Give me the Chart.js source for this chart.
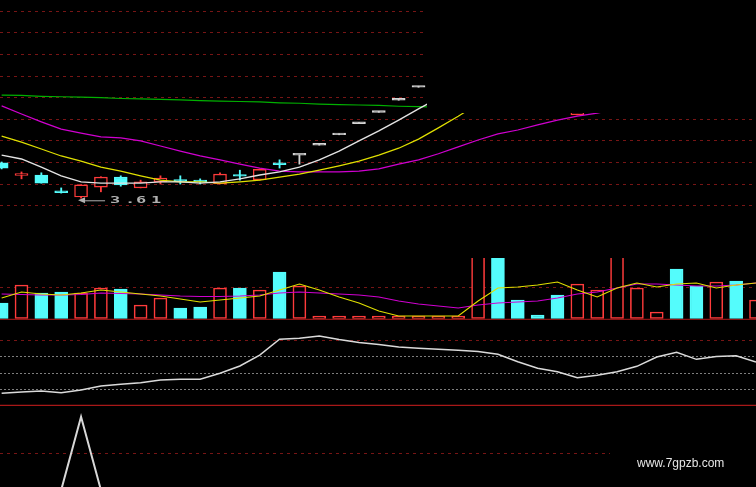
<!DOCTYPE html>
<html>
<head>
<meta charset="utf-8">
<script src="https://cdn.jsdelivr.net/npm/chart.js@4.4.1/dist/chart.umd.min.js"></script>
<style>
  html, body { margin: 0; padding: 0; background: #000; }
  #wrap { position: relative; width: 756px; height: 487px; overflow: hidden; background: #000; }
  canvas { position: absolute; left: 0; }
</style>
</head>
<body>
<div id="wrap">
  <canvas id="kline" width="756" height="216" style="top:0px"></canvas>
  <canvas id="vol" width="756" height="62" style="top:258px"></canvas>
  <canvas id="osc" width="756" height="86" style="top:320px"></canvas>
  <canvas id="sig" width="756" height="81" style="top:406px"></canvas>
</div>
<script>
// ---- daily bars (oldest first) ----
const opens  = [4.43, 4.14, 4.15, 3.76, 3.64, 3.87, 4.10, 3.85, 3.99, 4.02, 4.01, 3.94, 4.14, 4.04, 4.41, 4.61, 4.84, 5.08, 5.34, 5.60, 5.88, 6.18, 6.49, 6.81, 6.70, 7.10, 6.55, 6.35, 6.25, 5.54, 6.00, 6.25, 6.50, 6.70, 6.90, 6.50, 6.30, 6.65, 6.40];
const highs  = [4.45, 4.22, 4.20, 3.85, 3.93, 4.11, 4.13, 4.03, 4.13, 4.13, 4.06, 4.20, 4.26, 4.29, 4.50, 4.61, 4.84, 5.08, 5.34, 5.60, 5.88, 6.18, 6.49, 6.81, 7.15, 7.30, 6.70, 6.45, 6.30, 6.15, 6.30, 6.56, 6.80, 6.80, 7.05, 6.60, 6.70, 6.75, 6.60];
const lows   = [4.29, 4.06, 3.96, 3.73, 3.61, 3.76, 3.89, 3.85, 3.94, 3.94, 3.94, 3.94, 4.03, 4.03, 4.31, 4.40, 4.84, 5.08, 5.34, 5.60, 5.88, 6.18, 6.49, 6.81, 6.62, 6.50, 6.10, 6.15, 5.85, 5.54, 5.90, 6.20, 6.40, 6.60, 6.40, 6.20, 6.25, 6.35, 6.30];
const closes = [4.31, 4.15, 3.96, 3.74, 3.92, 4.10, 3.92, 3.99, 4.08, 4.00, 3.99, 4.17, 4.12, 4.28, 4.39, 4.61, 4.84, 5.08, 5.34, 5.60, 5.88, 6.18, 6.49, 6.81, 7.15, 6.60, 6.20, 6.30, 6.00, 6.10, 6.25, 6.56, 6.70, 6.75, 6.50, 6.30, 6.60, 6.40, 6.55];

// ---- price moving averages ----
const ma5  = [4.61, 4.52, 4.33, 4.13, 3.99, 3.96, 3.96, 3.96, 3.99, 3.99, 3.96, 3.99, 4.06, 4.15, 4.22, 4.33, 4.50, 4.70, 4.94, 5.17, 5.42, 5.68, 5.93, 6.20, 6.50, 6.72, 6.69, 6.61, 6.45, 6.24, 6.17, 6.24, 6.40, 6.67, 6.61, 6.56, 6.57, 6.51, 6.47];
const ma10 = [5.05, 4.91, 4.75, 4.59, 4.47, 4.33, 4.24, 4.13, 4.03, 3.99, 3.99, 3.96, 3.99, 4.03, 4.10, 4.17, 4.26, 4.36, 4.47, 4.61, 4.77, 4.98, 5.24, 5.51, 5.80, 6.00, 6.11, 6.21, 6.25, 6.27, 6.28, 6.32, 6.36, 6.39, 6.36, 6.33, 6.37, 6.41, 6.48];
const ma20 = [5.75, 5.56, 5.38, 5.21, 5.12, 5.03, 5.01, 4.94, 4.82, 4.70, 4.59, 4.50, 4.40, 4.31, 4.24, 4.22, 4.22, 4.22, 4.24, 4.29, 4.40, 4.50, 4.64, 4.80, 4.96, 5.10, 5.19, 5.31, 5.42, 5.51, 5.58, 5.68, 5.77, 5.86, 5.95, 6.03, 6.12, 6.20, 6.28];
const ma60 = [6.00, 5.99, 5.97, 5.96, 5.95, 5.94, 5.92, 5.91, 5.90, 5.89, 5.87, 5.86, 5.85, 5.84, 5.82, 5.81, 5.79, 5.78, 5.77, 5.76, 5.74, 5.73, 5.72, 5.71, 5.71, 5.71, 5.70, 5.70, 5.70, 5.70, 5.70, 5.71, 5.71, 5.72, 5.72, 5.73, 5.73, 5.74, 5.74];

// ---- volume (10k lots) and its averages ----
const volumes = [3.1, 6.7, 5.1, 5.3, 5.1, 6.1, 5.9, 2.7, 4.1, 2.1, 2.3, 6.1, 6.1, 5.7, 9.3, 6.5, 0.5, 0.5, 0.5, 0.5, 0.5, 0.5, 0.5, 0.5, 15.5, 12.5, 3.7, 0.7, 4.7, 6.9, 5.7, 12.6, 6.1, 1.3, 9.9, 6.5, 7.3, 7.5, 3.7];
const mavol5  = [4.1, 5.3, 4.9, 4.7, 5.1, 5.7, 5.3, 4.9, 4.5, 3.9, 3.3, 3.7, 4.1, 4.5, 5.7, 6.9, 5.7, 4.3, 3.1, 1.5, 0.5, 0.5, 0.5, 0.5, 3.5, 6.1, 6.3, 6.7, 7.3, 5.7, 4.3, 6.1, 7.1, 6.3, 6.9, 7.1, 6.1, 6.7, 7.1];
const mavol10 = [4.9, 4.8, 4.7, 4.7, 4.8, 5.1, 5.0, 4.9, 4.7, 4.5, 4.4, 4.4, 4.5, 4.7, 5.1, 5.3, 5.1, 4.9, 4.7, 4.3, 3.5, 2.9, 2.5, 2.1, 2.7, 3.1, 3.3, 3.5, 4.1, 4.9, 5.3, 6.1, 6.9, 6.9, 6.7, 6.5, 6.5, 6.7, 7.1];

// ---- oscillator (0-100) and bottom signal ----
const oscillator = [14.4, 16.0, 17.2, 15.1, 18.5, 23.4, 25.5, 27.4, 30.8, 31.6, 31.6, 39.0, 48.0, 61.5, 80.9, 82.1, 84.9, 80.6, 76.9, 74.5, 71.4, 69.8, 68.6, 67.3, 65.8, 62.4, 53.3, 45.2, 41.0, 33.6, 36.7, 40.9, 47.6, 59.1, 64.9, 56.2, 59.6, 60.6, 52.9];
const signal = [0, 0, 0, 0, 100, 0, 0, 0, 0, 0, 0, 0, 0, 0, 0, 0, 0, 0, 0, 0, 0, 0, 0, 0, 0, 0, 0, 0, 0, 0, 0, 0, 0, 0, 0, 0, 0, 0, 0];

// ---- horizontal reference levels per panel ----
const priceLevels = [3.45, 3.95, 4.45, 4.95, 5.45, 5.95, 6.45, 6.95, 7.45, 7.95];
const volumeLevels = [6.3];
const oscGreyLevels = [20, 40, 60];
const oscRedLevels = [80];
const signalLevels = [50];

// ---- colours ----
const UP = '#ff3b3b', DOWN = '#54fcfc', FLAT = '#d4d4d4';
const GRID_RED = 'rgba(125,22,22,0.95)';
const GRID_GREY = 'rgba(140,140,140,0.9)';

const pts = arr => arr.map((v, i) => ({ x: i, y: v }));

const candleColor = closes.map((c, i) => c > opens[i] ? UP : (c < opens[i] ? DOWN : FLAT));
const candleFill  = closes.map((c, i) => c > opens[i] ? '#000' : candleColor[i]);
const volUp = closes.map((c, i) => c > opens[i] || (c === opens[i] && (i === 0 || c >= closes[i - 1])));
const volColor = volUp.map(u => u ? UP : DOWN);
const volFill  = volUp.map(u => u ? '#000' : DOWN);

// dashed horizontal levels drawn under the series
const levelLines = {
  id: 'levelLines',
  beforeDatasetsDraw(chart, args, opts) {
    const lines = opts && opts.lines;
    if (!lines) return;
    const { ctx, chartArea, scales: { y } } = chart;
    lines.forEach(l => {
      const py = Math.round(y.getPixelForValue(l.value)) + 0.5;
      ctx.save();
      ctx.strokeStyle = l.color;
      ctx.lineWidth = l.width || 1;
      ctx.setLineDash(l.dash || []);
      ctx.beginPath();
      ctx.moveTo(chartArea.left, py);
      ctx.lineTo(l.xEnd != null ? l.xEnd : chartArea.right, py);
      ctx.stroke();
      ctx.restore();
    });
  }
};
Chart.register(levelLines);

const xAxis = () => ({ type: 'linear', min: -0.083, max: 38.0, offset: false, display: false });
const base = (yMin, yMax, lines) => ({
  responsive: false,
  animation: false,
  events: [],
  layout: { padding: 0 },
  plugins: { legend: { display: false }, tooltip: { enabled: false }, levelLines: { lines } },
  scales: { x: xAxis(), y: { min: yMin, max: yMax, display: false } }
});
const lineSet = (arr, color, width, order) => ({
  type: 'line', data: pts(arr), borderColor: color, borderWidth: width,
  pointRadius: 0, tension: 0, order
});

// ---- price panel ----
const priceMarks = {
  id: 'priceMarks',
  afterDraw(chart) {
    const { ctx, scales: { x, y } } = chart;
    // area above the recent run-up is blanked out
    ctx.save();
    ctx.fillStyle = '#000';
    ctx.fillRect(427, 0, 329, 113);
    ctx.restore();

    // lowest-price marker
    let li = 0;
    lows.forEach((v, i) => { if (v < lows[li]) li = i; });
    const px = x.getPixelForValue(li) - 2;
    const py = y.getPixelForValue(lows[li]) + 2;
    ctx.save();
    ctx.fillStyle = '#b0b0b0';
    ctx.strokeStyle = '#b0b0b0';
    ctx.lineWidth = 1;
    ctx.beginPath();
    ctx.moveTo(px - 1, py);
    ctx.lineTo(px + 6, py - 3);
    ctx.lineTo(px + 6, py + 3);
    ctx.closePath();
    ctx.fill();
    ctx.beginPath();
    ctx.moveTo(px + 6, py + 0.5);
    ctx.lineTo(px + 26, py + 0.5);
    ctx.stroke();
    ctx.font = 'bold 10px "DejaVu Sans Mono"';
    ctx.textBaseline = 'middle';
    const txt = lows[li].toFixed(2);
    const offs = [31, 46, 57, 72];
    [...txt].forEach((ch, k) => {
      ctx.save();
      ctx.translate(px + offs[k], py + 0.5);
      ctx.scale(1.7, 0.8);
      ctx.fillText(ch, 0, 0);
      ctx.restore();
    });
    ctx.restore();
  }
};

new Chart(document.getElementById('kline'), {
  type: 'bar',
  data: {
    datasets: [
      { type: 'bar', data: lows.map((l, i) => ({ x: i, y: [l, highs[i]] })),
        backgroundColor: candleColor, borderWidth: 0, barThickness: 1.2, minBarLength: 1,
        grouped: false, order: 6 },
      { type: 'bar', data: opens.map((o, i) => ({ x: i, y: [o, closes[i]] })),
        backgroundColor: candleFill, borderColor: candleColor, borderWidth: 1.4,
        borderSkipped: false, barThickness: 13, minBarLength: 1.8, grouped: false, order: 5 },
      lineSet(ma60, '#00b000', 1.2, 4),
      lineSet(ma20, '#d000d0', 1.2, 3),
      lineSet(ma10, '#e0e000', 1.2, 2),
      lineSet(ma5, '#e4e4e4', 1.4, 1)
    ]
  },
  options: base(3.2, 8.2, priceLevels.map(v => ({ value: v, color: GRID_RED, dash: [3, 4] }))),
  plugins: [priceMarks]
});

// ---- volume panel ----
new Chart(document.getElementById('vol'), {
  type: 'bar',
  data: {
    datasets: [
      { type: 'bar', data: pts(volumes), backgroundColor: volFill, borderColor: volColor,
        borderWidth: 1.6, borderSkipped: false, barThickness: 13, grouped: false, order: 3 },
      lineSet(mavol10, '#d000d0', 1.1, 2),
      lineSet(mavol5, '#e0e000', 1.1, 1)
    ]
  },
  options: base(-0.3, 12.1, [
    ...volumeLevels.map(v => ({ value: v, color: GRID_RED, dash: [3, 4] })),
    { value: 0, color: '#8c1414', width: 1.5 }
  ])
});

// ---- oscillator panel ----
new Chart(document.getElementById('osc'), {
  type: 'line',
  data: { datasets: [lineSet(oscillator, '#dadada', 1.5, 1)] },
  options: base(-1.23, 104.62, [
    ...oscRedLevels.map(v => ({ value: v, color: GRID_RED, dash: [3, 4] })),
    ...oscGreyLevels.map(v => ({ value: v, color: GRID_GREY, dash: [2, 2] })),
    { value: 0, color: '#a81818', width: 1.5 }
  ])
});

// ---- signal panel ----
const siteMark = {
  id: 'siteMark',
  afterDraw(chart) {
    const { ctx } = chart;
    ctx.save();
    ctx.fillStyle = '#000';
    ctx.fillRect(610, 32, 146, 49);
    ctx.fillStyle = '#e6e6e6';
    ctx.font = '12px "Liberation Sans", Arial, sans-serif';
    ctx.textBaseline = 'alphabetic';
    ctx.fillText('www.7gpzb.com', 637, 61);
    ctx.restore();
  }
};
new Chart(document.getElementById('sig'), {
  type: 'line',
  data: { datasets: [lineSet(signal, '#d8d8d8', 2, 1)] },
  options: base(4.09, 114.6, signalLevels.map(v => ({ value: v, color: GRID_RED, dash: [3, 4] }))),
  plugins: [siteMark]
});
</script>
</body>
</html>
